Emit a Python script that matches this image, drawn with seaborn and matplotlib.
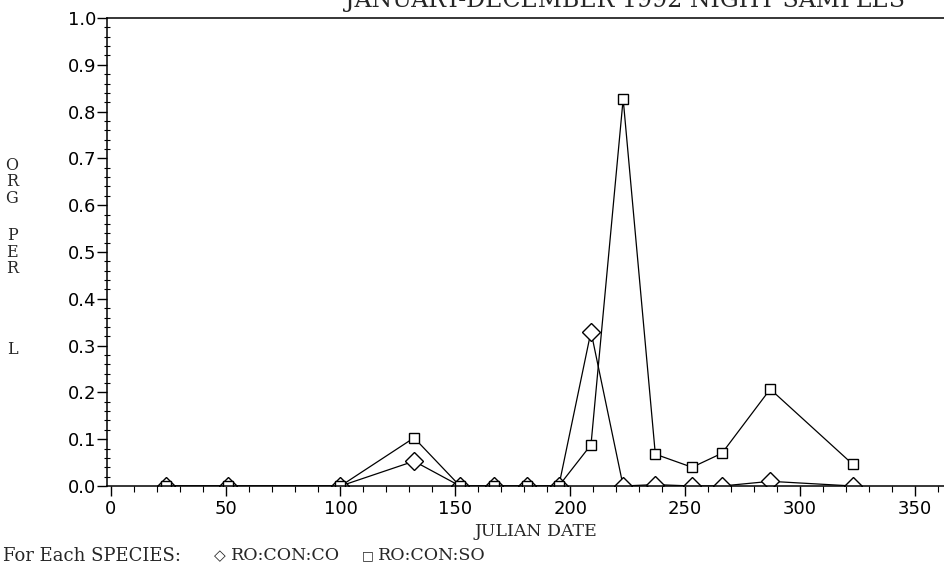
import matplotlib
matplotlib.use("Agg")
import matplotlib.pyplot as plt
import seaborn as sns
import pandas as pd
from matplotlib.ticker import MultipleLocator

sns.set_style("ticks")
plt.rcParams['font.family'] = ['DejaVu Sans']

julian_date = [24, 51, 100, 132, 152, 167, 181, 195, 209, 223, 237, 253, 266, 287, 323]
ro_con_co = [0, 0, 0, 0.053, 0, 0, 0, 0, 0.33, 0, 0.003, 0, 0, 0.01, 0]
ro_con_so = [0, 0, 0, 0.103, 0, 0, 0, 0, 0.088, 0.827, 0.068, 0.040, 0.070, 0.207, 0.046]
x_ticks = [0, 50, 100, 150, 200, 250, 300, 350]
y_ticks = [0.0, 0.1, 0.2, 0.3, 0.4, 0.5, 0.6, 0.7, 0.8, 0.9, 1.0]
title = "JANUARY-DECEMBER 1992 NIGHT SAMPLES"

df = pd.DataFrame({"date": julian_date, "co": ro_con_co, "so": ro_con_so})

W, H = 945, 572
fig = plt.figure(figsize=(W / 100, H / 100), dpi=100)
left_px, right_px, top_px, bot_px = 107, 962, 18, 486
ax = fig.add_axes([left_px / W, (H - bot_px) / H, (right_px - left_px) / W, (bot_px - top_px) / H])

px_per_day = 2.298
x0 = -(110.7 - left_px) / px_per_day
x1 = x0 + (right_px - left_px) / px_per_day

sns.lineplot(data=df, x="date", y="co", ax=ax, color="black", lw=0.9,
             marker="D", markersize=9, markerfacecolor="white",
             markeredgecolor="black", markeredgewidth=1.0)
sns.lineplot(data=df, x="date", y="so", ax=ax, color="black", lw=0.9,
             marker="s", markersize=7.5, markerfacecolor="white",
             markeredgecolor="black", markeredgewidth=1.0)

ax.set_xlim(x0, x1)
ax.set_ylim(0, 1.0)
ax.set_xticks(x_ticks)
ax.set_yticks(y_ticks)
ax.set_yticklabels([f"{v:.1f}" for v in y_ticks])
ax.xaxis.set_minor_locator(MultipleLocator(10))
ax.yaxis.set_minor_locator(MultipleLocator(0.02))
ax.tick_params(axis="both", which="major", direction="out", length=7, width=1.0,
               labelsize=13, color="black", labelcolor="black")
ax.tick_params(axis="x", which="minor", direction="out", length=4, width=0.8, color="black")
ax.tick_params(axis="y", which="minor", direction="inout", length=5, width=0.8, color="black")
ax.tick_params(axis="x", which="major", pad=3)
ax.tick_params(axis="y", which="major", pad=1)
ax.set_xlabel("")
ax.set_ylabel("")
for s in ["top", "bottom", "left"]:
    ax.spines[s].set_color("black")
    ax.spines[s].set_linewidth(1.1)
ax.spines["right"].set_visible(False)

serif = ["DejaVu Serif"]
# title (top partly cut off, as in the reference)
fig.text(625 / W, 1 - 7 / H, title, ha="center", va="baseline", fontsize=17, family=serif)
# x label
fig.text(536 / W, 1 - 531 / H, "JULIAN DATE", ha="center", va="center", fontsize=12.5, family=serif)
# y label (stacked letters)
fig.text(12 / W, 1 - 182 / H, "O\nR\nG", ha="center", va="center", fontsize=11.5,
         family=serif, linespacing=0.95)
fig.text(12 / W, 1 - 252 / H, "P\nE\nR", ha="center", va="center", fontsize=11.5,
         family=serif, linespacing=0.95)
fig.text(12 / W, 1 - 350 / H, "L", ha="center", va="center", fontsize=11.5, family=serif)
# legend line
yl = 1 - 556 / H
fig.text(3 / W, yl, "For Each SPECIES:", ha="left", va="center", fontsize=13, family=serif)
fig.text(214 / W, yl, "\u25C7", ha="left", va="center", fontsize=11, family=["DejaVu Sans"])
fig.text(231 / W, yl, "RO:CON:CO", ha="left", va="center", fontsize=12.5, family=serif)
fig.text(362 / W, yl, "\u25A1", ha="left", va="center", fontsize=9, family=["DejaVu Sans"])
fig.text(378 / W, yl, "RO:CON:SO", ha="left", va="center", fontsize=12.5, family=serif)

fig.savefig("out.png", dpi=100, facecolor="white")
